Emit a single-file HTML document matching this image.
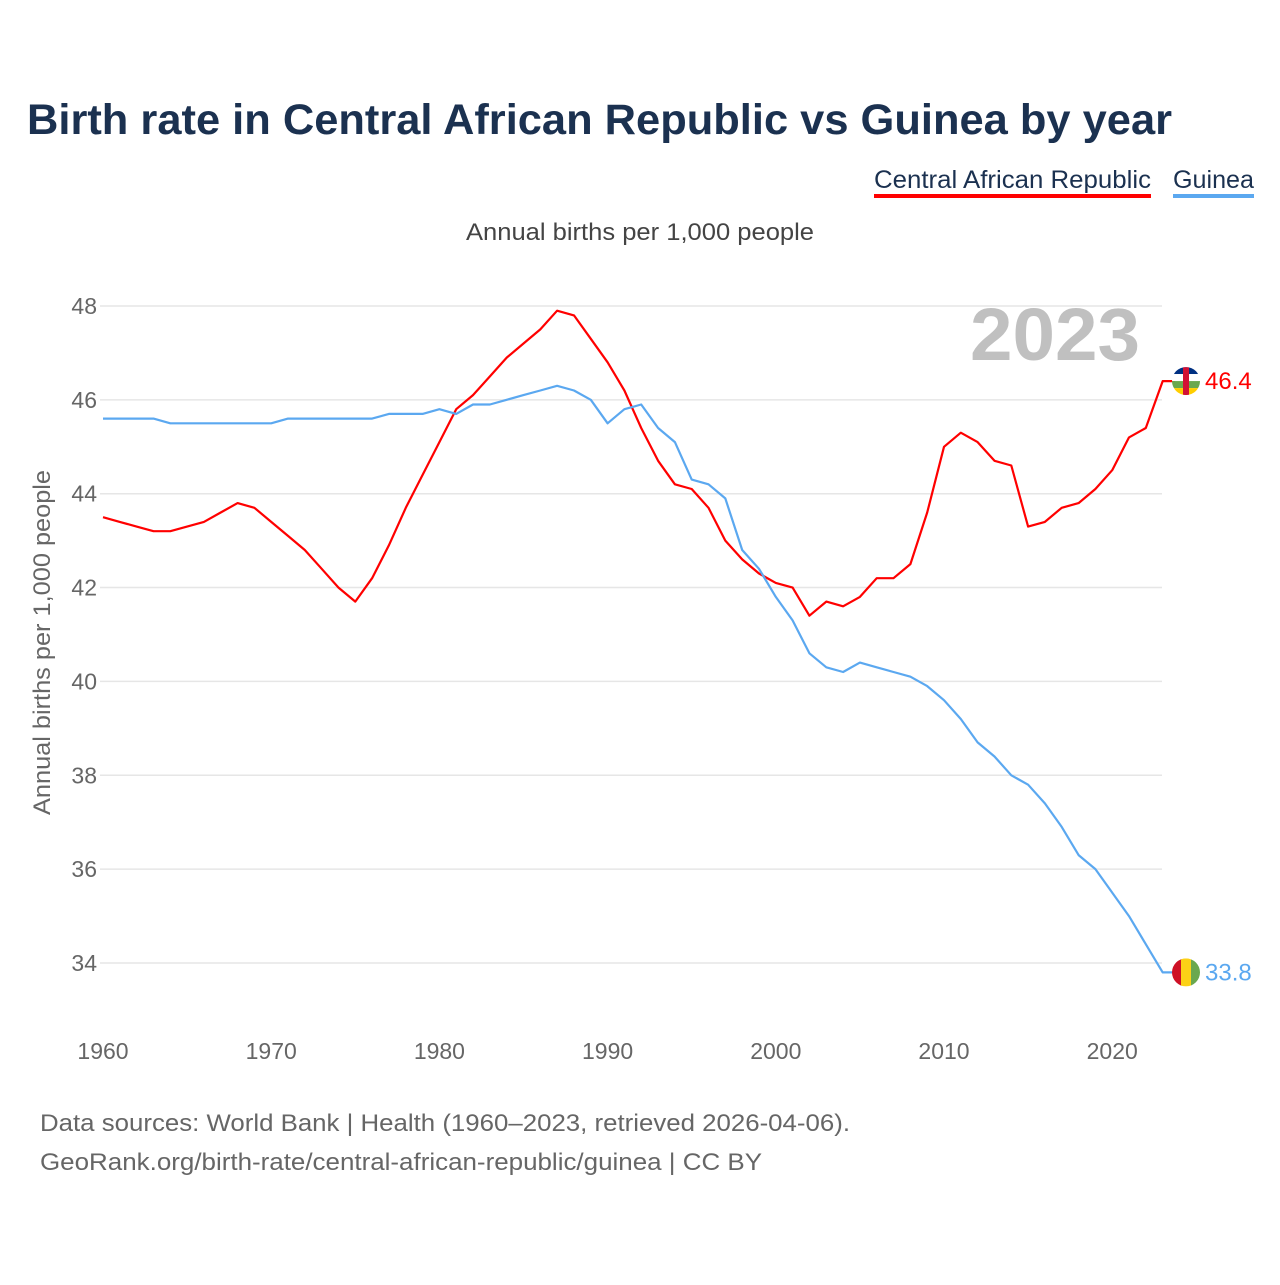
<!DOCTYPE html>
<html><head><meta charset="utf-8"><style>
body{margin:0;background:#fff;font-family:"Liberation Sans",sans-serif;}
</style></head><body>
<svg width="1280" height="1280" xmlns="http://www.w3.org/2000/svg" style="font-family:'Liberation Sans',sans-serif">
<text x="27" y="134" font-size="43" font-weight="bold" fill="#1b3150" textLength="1145" lengthAdjust="spacingAndGlyphs">Birth rate in Central African Republic vs Guinea by year</text>
<g><text x="1151" y="188" font-size="25" fill="#1b3150" text-anchor="end" textLength="277" lengthAdjust="spacingAndGlyphs">Central African Republic</text><rect x="874" y="194" width="277" height="4" fill="#ff0000"/></g>
<g><text x="1254" y="188" font-size="25" fill="#1b3150" text-anchor="end" textLength="81" lengthAdjust="spacingAndGlyphs">Guinea</text><rect x="1173" y="194" width="81" height="4" fill="#5ba8f0"/></g>
<text x="466" y="240" font-size="24" fill="#444" textLength="348" lengthAdjust="spacingAndGlyphs">Annual births per 1,000 people</text>
<text x="1140" y="360" font-size="74" font-weight="bold" fill="#c0c0c0" text-anchor="end" textLength="170" lengthAdjust="spacingAndGlyphs">2023</text>
<text transform="translate(50,815) rotate(-90)" font-size="24" fill="#666" textLength="345" lengthAdjust="spacingAndGlyphs">Annual births per 1,000 people</text>
<g id="grid"></g><g id="xt"></g><g id="lines"></g>
<text x="40" y="1131" font-size="24" fill="#666" textLength="810" lengthAdjust="spacingAndGlyphs">Data sources: World Bank | Health (1960–2023, retrieved 2026-04-06).</text>
<text x="40" y="1170" font-size="24" fill="#666" textLength="722" lengthAdjust="spacingAndGlyphs">GeoRank.org/birth-rate/central-african-republic/guinea | CC BY</text>
</svg>
<script>
const years=[];for(let y=1960;y<=2023;y++)years.push(y);
const car=[43.5,43.4,43.3,43.2,43.2,43.3,43.4,43.6,43.8,43.7,43.4,43.1,42.8,42.4,42.0,41.7,42.2,42.9,43.7,44.4,45.1,45.8,46.1,46.5,46.9,47.2,47.5,47.9,47.8,47.3,46.8,46.2,45.4,44.7,44.2,44.1,43.7,43.0,42.6,42.3,42.1,42.0,41.4,41.7,41.6,41.8,42.2,42.2,42.5,43.6,45.0,45.3,45.1,44.7,44.6,43.3,43.4,43.7,43.8,44.1,44.5,45.2,45.4,46.4];
const guinea=[45.6,45.6,45.6,45.6,45.5,45.5,45.5,45.5,45.5,45.5,45.5,45.6,45.6,45.6,45.6,45.6,45.6,45.7,45.7,45.7,45.8,45.7,45.9,45.9,46.0,46.1,46.2,46.3,46.2,46.0,45.5,45.8,45.9,45.4,45.1,44.3,44.2,43.9,42.8,42.4,41.8,41.3,40.6,40.3,40.2,40.4,40.3,40.2,40.1,39.9,39.6,39.2,38.7,38.4,38.0,37.8,37.4,36.9,36.3,36.0,35.5,35.0,34.4,33.8];
const yTicks=[34,36,38,40,42,44,46,48];
const xTicks=[1960,1970,1980,1990,2000,2010,2020];
const NS='http://www.w3.org/2000/svg';
const X=y=>103+(y-1960)*16.82;
const Y=v=>963-(v-34)*46.93;
function mk(t,a,p){const e=document.createElementNS(NS,t);for(const k in a)e.setAttribute(k,a[k]);p.appendChild(e);return e;}
const g=document.getElementById('grid');
yTicks.forEach(v=>{
 const l=mk('line',{x1:100,x2:1162,y1:Y(v),y2:Y(v),stroke:'#e6e6e6','stroke-width':1.5},g);
 
 
 const t=mk('text',{x:97,y:Y(v)+8,'font-size':23,fill:'#666','text-anchor':'end'},g);t.textContent=v;
 
 
});
const xt=document.getElementById('xt');
xTicks.forEach(v=>{
 const t=mk('text',{x:X(v),y:1059,'font-size':23,fill:'#666','text-anchor':'middle'},xt);t.textContent=v;
 
 
});
const L=document.getElementById('lines');
function series(d,c,name){
 let p=d.map((v,i)=>(i?'L':'M')+X(years[i]).toFixed(1)+' '+Y(v).toFixed(1)).join(' ');
 p+=' L1175 '+Y(d[d.length-1]).toFixed(1);
 const e=mk('path',{d:p,fill:'none',stroke:c,'stroke-width':2.2,'stroke-linejoin':'round'},L);
 
 
 const last=d[d.length-1];
 const t=mk('text',{x:1205,y:Y(last)+8,'font-size':24,fill:c},L);t.textContent=last.toFixed(1);
 
 
 return Y(last);
}
const yc=series(car,'#ff0000','car');
const yg=series(guinea,'#5ba8f0','guinea');
const f1=mk('g',{},L);


mk('clipPath',{id:'c1'},f1).appendChild(document.createElementNS(NS,'circle')).setAttribute('r',14);
f1.setAttribute('transform','translate(1186,'+yc+')');
const fg1=mk('g',{'clip-path':'url(#c1)'},f1);
[['#003082',-14],['#fff',-7],['#6aa84f',0],['#ffce00',7]].forEach(([c,y])=>mk('rect',{x:-14,y:y,width:28,height:7,fill:c},fg1));
mk('rect',{x:-3,y:-14,width:6,height:28,fill:'#d21034'},fg1);
const f2=mk('g',{transform:'translate(1186,'+yg+')'},L);


mk('clipPath',{id:'c2'},f2).appendChild(document.createElementNS(NS,'circle')).setAttribute('r',14);
const fg2=mk('g',{'clip-path':'url(#c2)'},f2);
[['#ce1126',-14],['#fcd116',-5],['#6aa84f',5]].forEach(([c,x])=>mk('rect',{x:x,y:-14,width:10,height:28,fill:c},fg2));
</script>
</body></html>
